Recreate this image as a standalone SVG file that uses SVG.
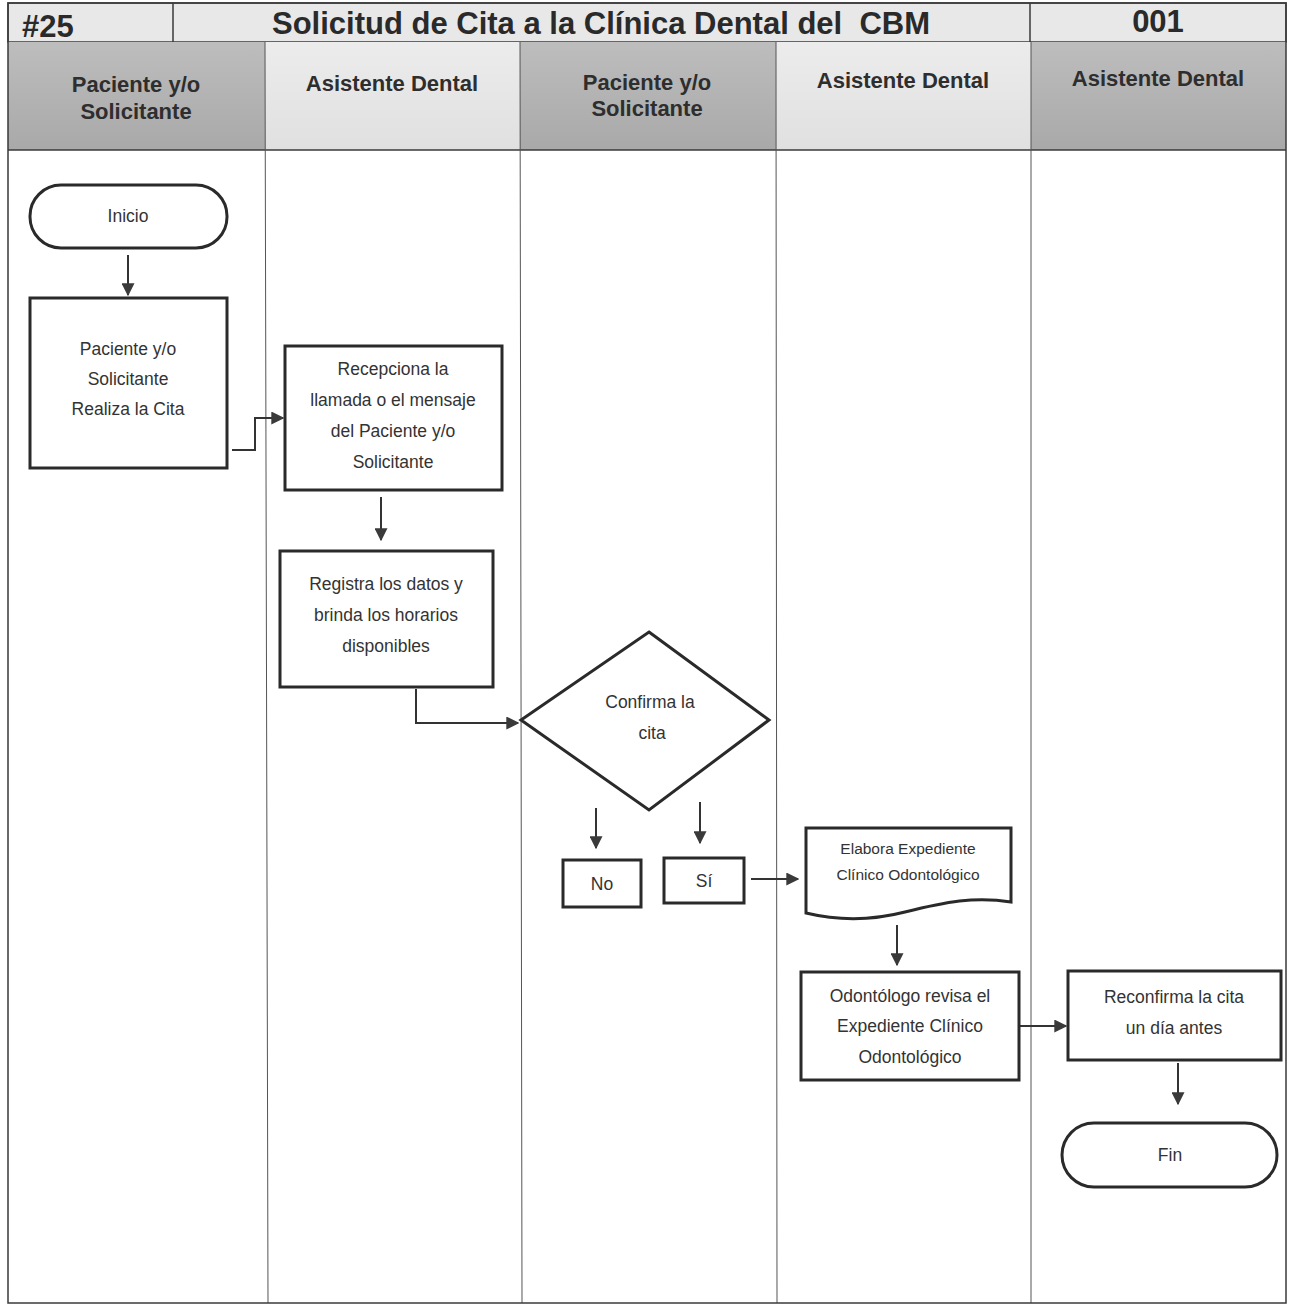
<svg xmlns="http://www.w3.org/2000/svg" width="1289" height="1306" viewBox="0 0 1289 1306">
  <defs>
    <style>
      .frame { fill: none; stroke: #3a3a3a; stroke-width: 1.5; }
      .lane { stroke: #555; stroke-width: 1; }
      .hdr { font-family: "Liberation Sans", Arial, sans-serif; font-weight: bold; font-size: 22px; fill: #2e2e2e; text-anchor: middle; }
      .title { font-family: "Liberation Sans", Arial, sans-serif; font-weight: bold; font-size: 31px; fill: #2a2a2a; white-space: pre; }
      .box { fill: #fff; stroke: #2a2a2a; stroke-width: 3; }
      .lbl { font-family: "Liberation Sans", Arial, sans-serif; font-size: 17.5px; fill: #333; text-anchor: middle; }
      .sm { font-size: 15.5px; }
      .edge { fill: none; stroke: #333; stroke-width: 2; }
    </style>
    <marker id="arrow" viewBox="0 0 10 10" refX="9" refY="5" markerWidth="13" markerHeight="13" markerUnits="userSpaceOnUse" orient="auto">
      <path d="M0,0 L10,5 L0,10 Z" fill="#3a3a3a"/>
    </marker>
    <linearGradient id="gray" x1="0" y1="0" x2="0" y2="1">
      <stop offset="0" stop-color="#bdbdbd"/>
      <stop offset="1" stop-color="#a9a9a9"/>
    </linearGradient>
    <linearGradient id="light" x1="0" y1="0" x2="0" y2="1">
      <stop offset="0" stop-color="#ececec"/>
      <stop offset="1" stop-color="#e0e0e0"/>
    </linearGradient>
  </defs>

  <rect width="1289" height="1306" fill="#fff"/>

  <!-- title row -->
  <g id="title-row">
    <rect x="8" y="3" width="1278" height="39" fill="#e8e8e8"/>
    <rect x="8" y="3" width="1278" height="39" class="frame"/>
    <line x1="173" y1="3" x2="173" y2="42" class="frame"/>
    <line x1="1030" y1="3" x2="1030" y2="42" class="frame"/>
    <text x="22" y="37" class="title">#25</text>
    <text x="601" y="34" class="title" text-anchor="middle">Solicitud de Cita a la Clínica Dental del  CBM</text>
    <text x="1158" y="32" class="title" text-anchor="middle">001</text>
  </g>

  <!-- lane headers -->
  <g id="lane-headers">
    <rect x="8" y="42" width="257" height="108" fill="url(#gray)"/>
    <rect x="265" y="42" width="255" height="108" fill="url(#light)"/>
    <rect x="520" y="42" width="256" height="108" fill="url(#gray)"/>
    <rect x="776" y="42" width="255" height="108" fill="url(#light)"/>
    <rect x="1031" y="42" width="255" height="108" fill="url(#gray)"/>
    <line x1="8" y1="150" x2="1286" y2="150" class="frame" stroke-width="2.5"/>
    <text class="hdr" x="136" y="92">Paciente y/o</text>
    <text class="hdr" x="136" y="119">Solicitante</text>
    <text class="hdr" x="392" y="91">Asistente Dental</text>
    <text class="hdr" x="647" y="90">Paciente y/o</text>
    <text class="hdr" x="647" y="116">Solicitante</text>
    <text class="hdr" x="903" y="88">Asistente Dental</text>
    <text class="hdr" x="1158" y="86">Asistente Dental</text>
  </g>

  <!-- lane dividers and outer frame -->
  <g id="lanes">
    <line x1="265" y1="42" x2="268" y2="1303" class="lane"/>
    <line x1="520" y1="42" x2="522" y2="1303" class="lane"/>
    <line x1="776" y1="42" x2="777" y2="1303" class="lane"/>
    <line x1="1031" y1="42" x2="1031" y2="1303" class="lane"/>
    <rect x="8" y="3" width="1278" height="1300" class="frame"/>
  </g>

  <!-- connectors -->
  <g id="connectors">
    <path class="edge" d="M128,255 V295" marker-end="url(#arrow)"/>
    <path class="edge" d="M232,450 H255 V418 H283" marker-end="url(#arrow)"/>
    <path class="edge" d="M381,497 V540" marker-end="url(#arrow)"/>
    <path class="edge" d="M416,689 V723 H518" marker-end="url(#arrow)"/>
    <path class="edge" d="M596,808 V848" marker-end="url(#arrow)"/>
    <path class="edge" d="M700,802 V843" marker-end="url(#arrow)"/>
    <path class="edge" d="M751,879 H798" marker-end="url(#arrow)"/>
    <path class="edge" d="M897,925 V965" marker-end="url(#arrow)"/>
    <path class="edge" d="M1019,1026 H1066" marker-end="url(#arrow)"/>
    <path class="edge" d="M1178,1063 V1104" marker-end="url(#arrow)"/>
  </g>

  <g id="inicio">
    <rect class="box" x="30" y="185" width="197" height="63" rx="31" ry="31"/>
    <text class="lbl" x="128" y="222">Inicio</text>
  </g>

  <g id="realiza-cita">
    <rect class="box" x="30" y="298" width="197" height="170"/>
    <text class="lbl" x="128" y="355">Paciente y/o</text>
    <text class="lbl" x="128" y="385">Solicitante</text>
    <text class="lbl" x="128" y="415">Realiza la Cita</text>
  </g>

  <g id="recepciona">
    <rect class="box" x="285" y="346" width="217" height="144"/>
    <text class="lbl" x="393" y="375">Recepciona la</text>
    <text class="lbl" x="393" y="406">llamada o el mensaje</text>
    <text class="lbl" x="393" y="437">del Paciente y/o</text>
    <text class="lbl" x="393" y="468">Solicitante</text>
  </g>

  <g id="registra">
    <rect class="box" x="280" y="551" width="213" height="136"/>
    <text class="lbl" x="386" y="590">Registra los datos y</text>
    <text class="lbl" x="386" y="621">brinda los horarios</text>
    <text class="lbl" x="386" y="652">disponibles</text>
  </g>

  <g id="confirma">
    <polygon class="box" points="649,632 769,720 649,810 521,720"/>
    <text class="lbl" x="650" y="708">Confirma la</text>
    <text class="lbl" x="652" y="739">cita</text>
  </g>

  <g id="no">
    <rect class="box" x="563" y="860" width="78" height="47"/>
    <text class="lbl" x="602" y="890">No</text>
  </g>

  <g id="si">
    <rect class="box" x="664" y="858" width="80" height="45"/>
    <text class="lbl" x="704" y="887">Sí</text>
  </g>

  <g id="expediente">
    <path class="box" d="M806,828 H1011 V902 C975,896 945,902 905,912 C870,921 835,920 806,913 Z"/>
    <text class="lbl sm" x="908" y="854">Elabora Expediente</text>
    <text class="lbl sm" x="908" y="880">Clínico Odontológico</text>
  </g>

  <g id="revisa">
    <rect class="box" x="801" y="972" width="218" height="108"/>
    <text class="lbl" x="910" y="1002">Odontólogo revisa el</text>
    <text class="lbl" x="910" y="1032">Expediente Clínico</text>
    <text class="lbl" x="910" y="1063">Odontológico</text>
  </g>

  <g id="reconfirma">
    <rect class="box" x="1068" y="971" width="213" height="89"/>
    <text class="lbl" x="1174" y="1003">Reconfirma la cita</text>
    <text class="lbl" x="1174" y="1034">un día antes</text>
  </g>

  <g id="fin">
    <rect class="box" x="1062" y="1123" width="215" height="64" rx="32" ry="32"/>
    <text class="lbl" x="1170" y="1161">Fin</text>
  </g>
</svg>
